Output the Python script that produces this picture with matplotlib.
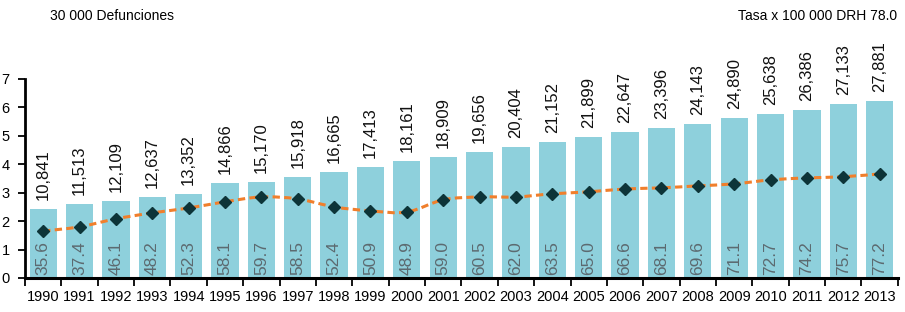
import matplotlib.pyplot as plt
import numpy as np
from matplotlib.path import Path
from matplotlib.patches import PathPatch

plt.rcParams["font.family"] = ["Liberation Sans", "DejaVu Sans"]
narrow = ["Liberation Sans Narrow", "Liberation Sans", "DejaVu Sans"]

years = [str(y) for y in range(1990, 2014)]
deaths = ["10,841", "11,513", "12,109", "12,637", "13,352", "14,866", "15,170",
          "15,918", "16,665", "17,413", "18,161", "18,909", "19,656", "20,404",
          "21,152", "21,899", "22,647", "23,396", "24,143", "24,890", "25,638",
          "26,386", "27,133", "27,881"]
bar_height = [2.43, 2.61, 2.71, 2.85, 2.96, 3.35, 3.38, 3.56, 3.73, 3.91, 4.12,
              4.26, 4.44, 4.61, 4.79, 4.96, 5.14, 5.29, 5.42, 5.63, 5.77, 5.92,
              6.13, 6.23]
rates = ["35.6", "37.4", "46.1", "48.2", "52.3", "58.1", "59.7", "58.5", "52.4",
         "50.9", "48.9", "59.0", "60.5", "62.0", "63.5", "65.0", "66.6", "68.1",
         "69.6", "71.1", "72.7", "74.2", "75.7", "77.2"]
line_vals = [1.65, 1.80, 2.08, 2.29, 2.46, 2.68, 2.85, 2.78, 2.50, 2.36, 2.32,
             2.75, 2.85, 2.85, 2.96, 3.03, 3.13, 3.17, 3.24, 3.31, 3.45, 3.52,
             3.56, 3.66]

bar_color = "#8ed0dc"
line_color = "#f07f2c"
marker_color = "#0d3438"


def smooth_path(xs, ys):
    # Catmull-Rom style bezier through the points
    verts = [(xs[0], ys[0])]
    codes = [Path.MOVETO]
    n = len(xs)
    for i in range(n - 1):
        x0, y0 = (xs[i - 1], ys[i - 1]) if i > 0 else (xs[i], ys[i])
        x1, y1 = xs[i], ys[i]
        x2, y2 = xs[i + 1], ys[i + 1]
        x3, y3 = (xs[i + 2], ys[i + 2]) if i + 2 < n else (x2, y2)
        c1 = (x1 + (x2 - x0) / 6, y1 + (y2 - y0) / 6)
        c2 = (x2 - (x3 - x1) / 6, y2 - (y3 - y1) / 6)
        verts += [c1, c2, (x2, y2)]
        codes += [Path.CURVE4] * 3
    return Path(verts, codes)


fig = plt.figure(figsize=(9.05, 3.12), dpi=100)
ax = fig.add_axes([0.0276, 0.109, 0.9645, 0.638])

x = np.arange(len(years))
ax.bar(x, bar_height, width=0.75, color=bar_color, zorder=1)

patch = PathPatch(smooth_path(x, line_vals), facecolor="none", edgecolor=line_color,
                  linewidth=2.2, linestyle=(0, (2.4, 1.4)), zorder=2)
ax.add_patch(patch)
ax.plot(x, line_vals, linestyle="none", marker="D", markersize=6.5,
        color=marker_color, zorder=3)

for xi, h, d, r in zip(x, bar_height, deaths, rates):
    ax.text(xi, h + 0.3, d, rotation=90, ha="center", va="bottom",
            fontsize=12, family=narrow, color="#111111")
    ax.text(xi, 0.12, r, rotation=90, ha="center", va="bottom",
            fontsize=12.5, family=narrow, color="#5c6a70")

ax.set_xlim(-0.5, len(years) - 0.5)
ax.set_ylim(0, 7)
ax.set_yticks(range(0, 8))
ax.set_xticks(x)
ax.set_xticklabels(years, fontsize=10.5)
ax.set_xticks(np.arange(-0.5, len(years), 1.0), minor=True)
ax.tick_params(axis="x", which="major", length=0, pad=9)
ax.tick_params(axis="x", which="minor", length=6, width=1.3, direction="out")
ax.tick_params(axis="y", length=5, width=1.3, direction="out", labelsize=10.5, pad=6)

for side in ["top", "right"]:
    ax.spines[side].set_visible(False)
ax.spines["left"].set_linewidth(2)
ax.spines["bottom"].set_linewidth(2.2)

fig.text(50 / 905, 1 - 16 / 312, "30 000 Defunciones", fontsize=10,
         ha="left", va="center")
fig.text(897 / 905, 1 - 16 / 312, "Tasa x 100 000 DRH 78.0", fontsize=10,
         ha="right", va="center")

fig.savefig("out.png", dpi=100)
